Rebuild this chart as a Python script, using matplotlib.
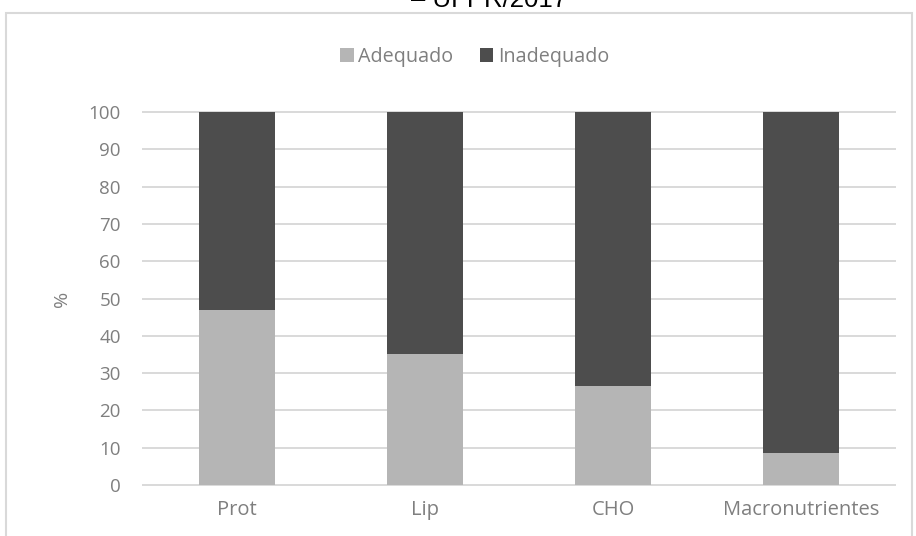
import matplotlib
matplotlib.use("Agg")
import matplotlib.pyplot as plt
import matplotlib.patches as patches
import numpy as np

# Percentage of adequate / inadequate intake per macronutrient
categories = ["Prot", "Lip", "CHO", "Macronutrientes"]
adequado = [47.0, 35.2, 26.5, 8.5]
inadequado = [100 - v for v in adequado]
yticks = list(range(0, 101, 10))

LIGHT = "#b5b5b5"
DARK = "#4d4d4d"
GRID = "#d9d9d9"
TEXT = "#7f7f7f"
FONT = "Open Sans"
FS = 13.5

fig = plt.figure(figsize=(9.16, 5.36), dpi=100)
W, H = 916, 536

# outer chart border
frame = patches.Rectangle((6 / W, -0.05), 906 / W, 1.05 - 13 / H,
                          transform=fig.transFigure, fill=False,
                          edgecolor=GRID, linewidth=1.5)
fig.patches.append(frame)

# title line, partly cut off at the top edge
fig.text(489 / W, 1 - 7 / H, "– UFPR/2017", ha="center", va="baseline",
         fontsize=18.5, family="Liberation Sans", color="black")

ax = fig.add_axes([143 / W, (H - 485) / H, 752 / W, 373 / H])
x = np.arange(len(categories))
bw = 0.405
ax.bar(x, adequado, bw, color=LIGHT, label="Adequado", zorder=3)
ax.bar(x, inadequado, bw, bottom=adequado, color=DARK, label="Inadequado", zorder=3)

ax.set_xlim(-0.5, len(categories) - 0.5)
ax.set_ylim(0, 100)
ax.set_yticks(yticks)
for t in yticks:
    ax.axhline(t, color=GRID, linewidth=1.4, zorder=1, clip_on=False)
for s in ax.spines.values():
    s.set_visible(False)
ax.tick_params(axis="both", length=0, labelsize=FS, labelcolor=TEXT)
ax.tick_params(axis="y", pad=16)
ax.tick_params(axis="x", pad=11, labelsize=14.5)
ax.set_xticks(x)
ax.set_xticklabels(categories, family=FONT)
for lbl in ax.get_yticklabels():
    lbl.set_family(FONT)
ax.set_ylabel("%", fontsize=14, color=TEXT, family=FONT, va="center")
ax.yaxis.set_label_coords(-0.108, 0.5)

ax.legend(loc="center", bbox_to_anchor=(0.441, 1.147), ncol=2, frameon=False,
          prop={"family": FONT, "size": 14.2}, labelcolor=TEXT,
          handlelength=0.68, handleheight=0.68, handletextpad=0.22, columnspacing=1.35)

fig.savefig("out.png", dpi=100)
